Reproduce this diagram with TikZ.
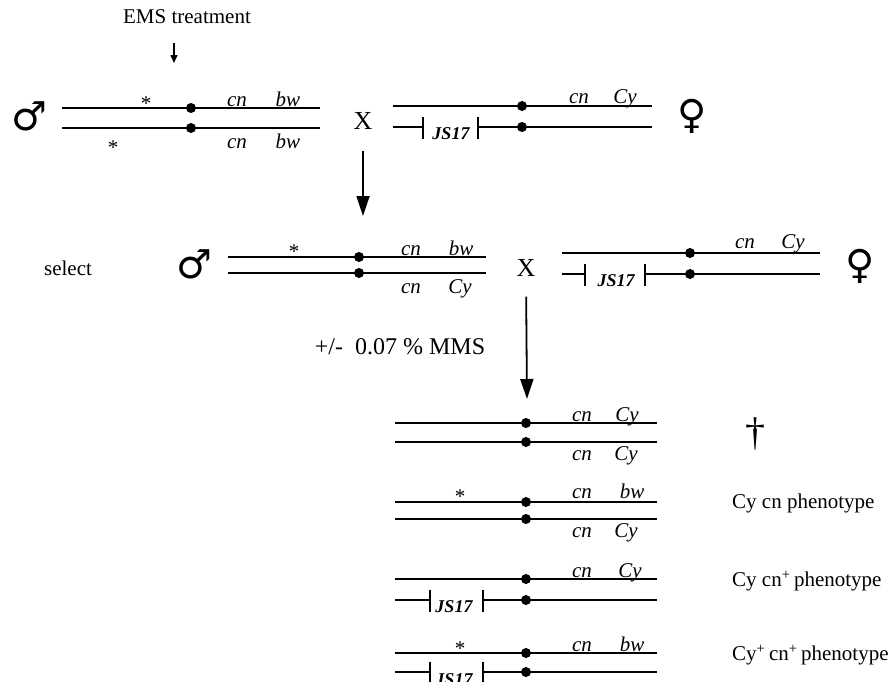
\documentclass[tikz,border=0pt]{standalone}
\usepackage{fontspec}
\setmainfont{Liberation Serif}
\newfontfamily\symfont{DejaVu Sans}
\usetikzlibrary{arrows.meta}
\begin{document}
\begin{tikzpicture}[x=1pt,y=-1pt,
  chrom/.style={line width=1.8pt},
  tick/.style={line width=1.5pt},
  lab/.style={font=\fontsize{21}{24}\selectfont, inner sep=0pt, anchor=base},
  gene/.style={lab, font=\fontsize{21}{24}\selectfont\itshape},
  jsl/.style={lab, font=\fontsize{18}{20}\selectfont\bfseries\itshape},
  sexsym/.style={inner sep=0pt, font=\fontsize{40}{44}\selectfont\symfont\bfseries},
  bigx/.style={inner sep=0pt, font=\fontsize{26}{28}\selectfont},
  arr/.style={line width=1.8pt, -{Triangle[length=20pt,width=13pt]}},
  smallarr/.style={line width=1.5pt, -{Triangle[length=8pt,width=7pt]}},
  pheno/.style={inner sep=0pt, anchor=west, font=\fontsize{21}{24}\selectfont}
]
\useasboundingbox (0,0) rectangle (889,681);

% ---------- EMS treatment ----------
\node[lab, anchor=center] (ems) at (187,17) {EMS treatment};
\coordinate (emsA) at (174,43);
\coordinate (emsB) at (174,63);
\draw[smallarr] (emsA) -- (emsB);

% ---------- Row 1 male ----------
\node[sexsym] (m1) at (29,116) {♂};
\draw[chrom] (62,108) -- (320,108);
\draw[chrom] (62,128) -- (320,128);
\fill (191,108) circle (5pt);
\fill (191,128) circle (5pt);
\node[lab] (m1s1) at (146,110.5) {*};
\node[gene] (m1cn1) at (237,106) {cn};
\node[gene] (m1bw1) at (288,106) {bw};
\node[lab] (m1s2) at (113,154.5) {*};
\node[gene] (m1cn2) at (237,148) {cn};
\node[gene] (m1bw2) at (288,148) {bw};

\node[bigx] (x1) at (363,121) {X};

% ---------- Row 1 female ----------
\draw[chrom] (393,106) -- (652,106);
\draw[chrom] (393,127) -- (423,127);
\draw[tick] (423,117) -- (423,139);
\draw[tick] (478,117) -- (478,139);
\draw[chrom] (478,127) -- (652,127);
\fill (522,106) circle (5pt);
\fill (522,127) circle (5pt);
\node[gene] (f1cn) at (579,103) {cn};
\node[gene] (f1cy) at (625,103) {Cy};
\node[jsl] (f1js) at (451,139) {JS17};
\node[sexsym] (f1) at (692,116) {♀};

% ---------- Arrow 1 ----------
\coordinate (a1end) at (363,216);
\draw[arr, shorten <=21pt] (x1.south) -- (a1end);

% ---------- Row 2 ----------
\node[lab, anchor=center] (sel) at (68,268) {select};
\node[sexsym] (m2) at (194,264) {♂};
\draw[chrom] (228,257) -- (486,257);
\draw[chrom] (228,273) -- (486,273);
\fill (359,257) circle (5pt);
\fill (359,273) circle (5pt);
\node[lab] (m2s) at (294,258.5) {*};
\node[gene] (m2cn1) at (411,255) {cn};
\node[gene] (m2bw) at (461,255) {bw};
\node[gene] (m2cn2) at (411,293) {cn};
\node[gene] (m2cy) at (460,293) {Cy};

\node[bigx] (x2) at (526,268) {X};

\draw[chrom] (562,253) -- (820,253);
\draw[chrom] (562,274) -- (585,274);
\draw[tick] (585,264) -- (585,286);
\draw[tick] (645,264) -- (645,286);
\draw[chrom] (645,274) -- (820,274);
\fill (690,253) circle (5pt);
\fill (690,274) circle (5pt);
\node[gene] (f2cn) at (745,248) {cn};
\node[gene] (f2cy) at (793,248) {Cy};
\node[jsl] (f2js) at (616,286) {JS17};
\node[sexsym] (f2) at (860,266) {♀};

% ---------- Arrow 2 ----------
\node[inner sep=0pt, font=\fontsize{24}{26}\selectfont] (mms) at (400,347) {+/-\ \ 0.07 \% MMS};
\coordinate (a2end) at (527,399);
\draw[arr, shorten <=20pt] (x2.south) -- (a2end);

% ---------- Offspring 1 ----------
\draw[chrom] (395,423) -- (657,423);
\draw[chrom] (395,442) -- (657,442);
\fill (526,423) circle (5pt);
\fill (526,442) circle (5pt);
\node[gene] (o1cn1) at (582,421) {cn};
\node[gene] (o1cy1) at (627,421) {Cy};
\node[gene] (o1cn2) at (582,460) {cn};
\node[gene] (o1cy2) at (626,460) {Cy};
\node[inner sep=0pt, font=\fontsize{40}{44}\selectfont] (dag) at (755,434) {†};

% ---------- Offspring 2 ----------
\draw[chrom] (395,502) -- (657,502);
\draw[chrom] (395,519) -- (657,519);
\fill (526,502) circle (5pt);
\fill (526,519) circle (5pt);
\node[lab] (o2s) at (460,503.5) {*};
\node[gene] (o2cn1) at (582,498) {cn};
\node[gene] (o2bw) at (632,498) {bw};
\node[gene] (o2cn2) at (582,537) {cn};
\node[gene] (o2cy) at (626,537) {Cy};
\node[pheno] (p2) at (732,503) {Cy cn phenotype};

% ---------- Offspring 3 ----------
\draw[chrom] (395,579) -- (657,579);
\draw[chrom] (395,600) -- (430,600);
\draw[tick] (430,590) -- (430,612);
\draw[tick] (483,590) -- (483,612);
\draw[chrom] (483,600) -- (657,600);
\fill (526,579) circle (5pt);
\fill (526,600) circle (5pt);
\node[gene] (o3cn) at (582,577) {cn};
\node[gene] (o3cy) at (630,577) {Cy};
\node[jsl] (o3js) at (454,612) {JS17};
\node[pheno] (p3) at (732,581) {Cy cn\textsuperscript{+}\,phenotype};

% ---------- Offspring 4 ----------
\draw[chrom] (395,653) -- (657,653);
\draw[chrom] (395,672) -- (430,672);
\draw[tick] (430,662) -- (430,684);
\draw[tick] (483,662) -- (483,684);
\draw[chrom] (483,672) -- (657,672);
\fill (526,653) circle (5pt);
\fill (526,672) circle (5pt);
\node[lab] (o4s) at (460,655.5) {*};
\node[gene] (o4cn) at (582,651) {cn};
\node[gene] (o4bw) at (632,651) {bw};
\node[jsl] (o4js) at (454,685) {JS17};
\node[pheno] (p4) at (732,655) {Cy\textsuperscript{+}\,cn\textsuperscript{+}\,phenotype};
\end{tikzpicture}
\end{document}
